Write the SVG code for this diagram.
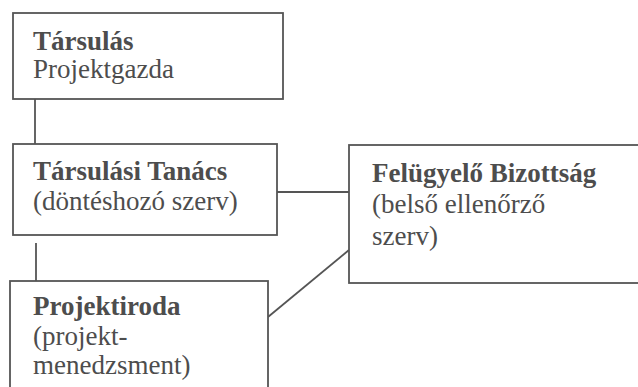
<svg xmlns="http://www.w3.org/2000/svg" width="638" height="387" viewBox="0 0 638 387">
<style>
.box{fill:#fff;stroke:#555;stroke-width:1.8}
.ln{stroke:#555;stroke-width:1.8;fill:none}
text{font-family:"Liberation Serif","Times New Roman",serif;fill:#4d4d4d;font-size:27px}
.b{font-weight:bold}
</style>
<rect width="638" height="387" fill="#fff"/>
<g id="connectors">
<line class="ln" x1="35" y1="99" x2="35" y2="144"/>
<line class="ln" x1="36" y1="243" x2="36" y2="281"/>
<line class="ln" x1="277" y1="192" x2="349" y2="192"/>
<line class="ln" x1="349" y1="250" x2="268" y2="317"/>
</g>
<g id="tarsulas">
<rect class="box" x="13" y="13" width="270" height="86"/>
<text x="33" y="50" class="b" font-size="28">Társulás</text>
<text x="33" y="78" font-size="25">Projektgazda</text>
</g>
<g id="tanacs">
<rect class="box" x="13" y="144" width="264" height="91"/>
<text x="33" y="180" class="b" font-size="28">Társulási Tanács</text>
<text x="33" y="210" font-size="28">(döntéshozó szerv)</text>
</g>
<g id="bizottsag">
<rect class="box" x="349" y="145" width="300" height="138"/>
<text x="372" y="182" class="b" font-size="27.7">Felügyelő Bizottság</text>
<text x="372" y="213" font-size="27.5">(belső ellenőrző</text>
<text x="372" y="245" font-size="25">szerv)</text>
</g>
<g id="projektiroda">
<rect class="box" x="10" y="281" width="258" height="120"/>
<text x="33" y="315" class="b" font-size="27.3">Projektiroda</text>
<text x="33" y="345" font-size="26.5">(projekt-</text>
<text x="33" y="374" font-size="27.4">menedzsment)</text>
</g>
</svg>
